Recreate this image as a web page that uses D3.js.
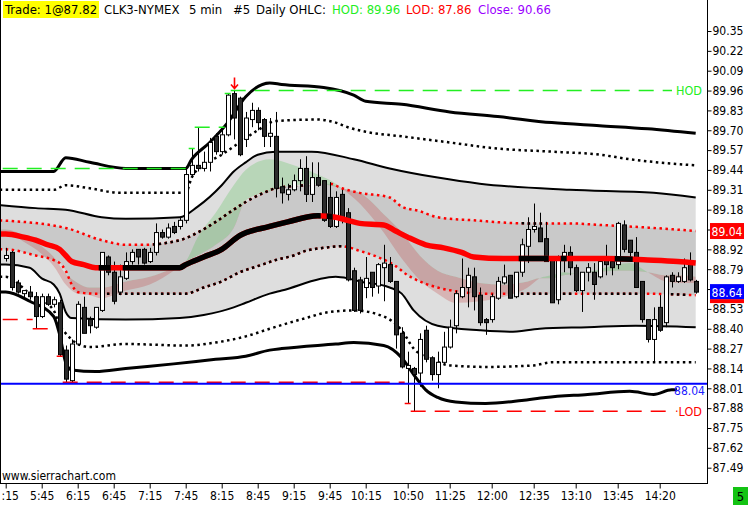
<!DOCTYPE html>
<html>
<head>
<meta charset="utf-8">
<script src="https://cdn.jsdelivr.net/npm/d3@7"></script>
<style>
body { margin: 0; background: #fff; }
svg { display: block; }
text { font-family: 'DejaVu Sans Condensed', 'Liberation Sans', sans-serif; }
</style>
</head>
<body>
<script>
// ---- data (CLK3 5 min bars, first bar 5:15) ----
const firstBar = "5:15";
const barMinutes = 5;
const tickTimes = ["5:15", "5:45", "6:15", "6:45", "7:15", "7:45", "8:15", "8:45", "9:15", "9:45",
    "10:15", "10:50", "11:25", "12:00", "12:35", "13:10", "13:45", "14:20"];
const priceTicks = [90.35, 90.22, 90.09, 89.96, 89.83, 89.70, 89.57, 89.44, 89.31, 89.18, 89.05,
    88.92, 88.79, 88.66, 88.53, 88.40, 88.27, 88.14, 88.01, 87.88, 87.75, 87.62, 87.49];

const opens = [88.86, 88.90, 88.70, 88.63, 88.64, 88.61, 88.48, 88.61, 88.56, 88.57,
    88.26, 88.06, 88.30, 88.54, 88.46, 88.41, 88.52, 88.87, 88.77, 88.64,
    88.73, 88.84, 88.92, 88.92, 88.84, 88.90, 89.03, 89.00, 89.07, 89.07,
    89.11, 89.41, 89.47, 89.45, 89.49, 89.66, 89.56, 89.67, 89.94, 89.91,
    89.64, 89.77, 89.83, 89.77, 89.66, 89.66, 89.33, 89.28, 89.31, 89.37,
    89.45, 89.28, 89.39, 89.37, 89.26, 89.07, 89.28, 89.16, 88.78, 88.72,
    88.67, 88.77, 88.68, 88.80, 88.82, 88.71, 88.37, 88.14, 88.14, 88.11,
    88.39, 88.21, 88.10, 88.18, 88.28, 88.42, 88.61, 88.67, 88.74, 88.62,
    88.46, 88.46, 88.60, 88.70, 88.75, 88.61, 88.77, 88.94, 89.05, 89.06,
    88.99, 88.85, 88.59, 88.85, 88.90, 88.80, 88.65, 88.77, 88.77, 88.74,
    88.87, 88.84, 88.82, 89.08, 88.98, 88.90, 88.71, 88.46, 88.33, 88.54,
    88.44, 88.75, 88.71, 88.71, 88.82, 88.71];
const highs = [88.93, 88.91, 88.72, 88.65, 88.68, 88.64, 88.63, 88.63, 88.61, 88.59,
    88.29, 88.33, 88.58, 88.61, 88.48, 88.54, 88.90, 88.88, 88.84, 88.82,
    88.90, 88.92, 88.92, 88.93, 88.93, 89.09, 89.05, 89.09, 89.10, 89.13,
    89.45, 89.58, 89.72, 89.56, 89.65, 89.68, 89.72, 89.94, 89.96, 89.92,
    89.82, 89.88, 89.85, 89.78, 89.78, 89.82, 89.39, 89.35, 89.41, 89.51,
    89.53, 89.49, 89.49, 89.37, 89.36, 89.30, 89.31, 89.19, 88.80, 88.74,
    88.87, 88.77, 88.83, 88.95, 88.87, 88.71, 88.41, 88.25, 88.15, 88.37,
    88.42, 88.22, 88.25, 88.38, 88.46, 88.65, 88.86, 88.80, 88.80, 88.67,
    88.47, 88.63, 88.74, 88.82, 88.75, 88.77, 88.99, 89.13, 89.22, 89.16,
    89.10, 88.85, 88.88, 88.95, 88.94, 88.82, 88.77, 88.83, 88.83, 88.85,
    88.95, 88.87, 89.10, 89.11, 88.98, 89.00, 88.71, 88.46, 88.54, 88.62,
    88.75, 88.77, 88.77, 88.86, 88.90, 88.72];
const lows = [88.84, 88.65, 88.63, 88.60, 88.59, 88.40, 88.47, 88.55, 88.54, 88.22,
    88.05, 88.05, 88.29, 88.37, 88.37, 88.40, 88.51, 88.75, 88.56, 88.62,
    88.72, 88.82, 88.82, 88.82, 88.83, 88.88, 88.99, 88.99, 89.02, 89.05,
    89.09, 89.39, 89.43, 89.43, 89.43, 89.54, 89.54, 89.66, 89.64, 89.53,
    89.59, 89.72, 89.70, 89.59, 89.59, 89.26, 89.22, 89.24, 89.30, 89.30,
    89.23, 89.23, 89.33, 89.10, 89.06, 89.06, 89.09, 88.71, 88.51, 88.50,
    88.60, 88.61, 88.63, 88.58, 88.70, 88.27, 88.14, 87.91, 87.86, 88.02,
    88.18, 88.06, 88.01, 88.16, 88.27, 88.37, 88.60, 88.54, 88.52, 88.42,
    88.36, 88.44, 88.59, 88.69, 88.60, 88.60, 88.74, 88.83, 89.03, 88.97,
    88.84, 88.57, 88.56, 88.77, 88.75, 88.64, 88.51, 88.71, 88.59, 88.73,
    88.75, 88.75, 88.79, 88.90, 88.85, 88.67, 88.44, 88.31, 88.18, 88.38,
    88.41, 88.67, 88.70, 88.70, 88.71, 88.63];
const closes = [88.88, 88.67, 88.64, 88.65, 88.61, 88.48, 88.61, 88.56, 88.59, 88.23,
    88.07, 88.30, 88.56, 88.37, 88.42, 88.54, 88.90, 88.77, 88.58, 88.74,
    88.84, 88.90, 88.87, 88.83, 88.90, 89.03, 89.00, 89.06, 89.03, 89.11,
    89.41, 89.47, 89.45, 89.49, 89.62, 89.56, 89.67, 89.93, 89.78, 89.54,
    89.78, 89.83, 89.75, 89.66, 89.68, 89.32, 89.29, 89.31, 89.37, 89.45,
    89.28, 89.39, 89.34, 89.11, 89.07, 89.26, 89.11, 88.72, 88.52, 88.52,
    88.73, 88.67, 88.82, 88.83, 88.71, 88.36, 88.15, 88.16, 88.10, 88.33,
    88.20, 88.10, 88.18, 88.28, 88.41, 88.63, 88.67, 88.75, 88.61, 88.44,
    88.44, 88.61, 88.71, 88.74, 88.60, 88.77, 88.95, 89.05, 89.07, 88.97,
    88.84, 88.57, 88.85, 88.90, 88.80, 88.65, 88.77, 88.80, 88.69, 88.84,
    88.82, 88.80, 89.09, 88.92, 88.90, 88.67, 88.46, 88.33, 88.46, 88.39,
    88.74, 88.71, 88.74, 88.80, 88.72, 88.64];

// band lines, [bar, price] read at turning points
const outerUpper = [[-1, 89.43], [8, 89.43], [10, 89.52], [14, 89.49], [20, 89.45], [30, 89.45], [31, 89.51],
    [34, 89.62], [37, 89.75], [40, 89.92], [44, 90.01], [46, 90.00], [53, 89.98], [58, 89.93], [60, 89.89],
    [66, 89.87], [74, 89.82], [82, 89.79], [91, 89.75], [99, 89.73], [107, 89.71], [115, 89.68]];
const upperDots = [[-1, 89.31], [8, 89.31], [10, 89.34], [14, 89.32], [19, 89.29], [30, 89.29], [31, 89.39],
    [33, 89.47], [36, 89.54], [39, 89.62], [42, 89.70], [45, 89.76], [52, 89.77], [55, 89.75], [57, 89.72],
    [60, 89.69], [66, 89.66], [74, 89.62], [82, 89.58], [91, 89.56], [99, 89.54], [104, 89.51], [115, 89.47]];
const innerUpper = [[-1, 89.21], [5, 89.19], [10, 89.18], [16, 89.13], [20, 89.12], [29, 89.13], [32, 89.20],
    [36, 89.34], [38, 89.43], [40, 89.49], [42, 89.54], [45, 89.56], [51, 89.56], [58, 89.51], [64, 89.45],
    [72, 89.39], [79, 89.35], [94, 89.31], [108, 89.29], [115, 89.26]];
const midUpperDots = [[-1, 89.11], [10, 89.06], [16, 88.98], [20, 88.95], [23, 88.95], [29, 88.98], [32, 89.03],
    [35, 89.10], [38, 89.18], [40, 89.23], [43, 89.29], [45, 89.32], [50, 89.34], [54, 89.35], [56, 89.32],
    [59, 89.29], [64, 89.26], [66, 89.20], [69, 89.17], [72, 89.13], [78, 89.11], [87, 89.09], [94, 89.09],
    [99, 89.08], [108, 89.06], [115, 89.04]];
const midLine = [[-1, 89.02], [0, 89.02], [3, 89.00], [5, 88.98], [7, 88.95], [9, 88.92], [10, 88.88], [11, 88.84],
    [13, 88.82], [15, 88.80], [19, 88.80], [29, 88.80], [30, 88.82], [33, 88.87], [36, 88.92], [39, 89.01],
    [44, 89.07], [47, 89.10], [52, 89.14], [55, 89.13], [57, 89.11], [59, 89.09], [63, 89.08], [65, 89.04],
    [67, 89.00], [70, 88.95], [73, 88.93], [76, 88.90], [78, 88.87], [83, 88.86], [100, 88.86], [107, 88.85],
    [112, 88.84], [115, 88.83]];
const midLowerDots = [[-1, 88.92], [0, 88.92], [5, 88.88], [8, 88.85], [9, 88.83], [10, 88.78], [11, 88.69],
    [12, 88.64], [15, 88.63], [30, 88.63], [33, 88.67], [36, 88.71], [39, 88.77], [42, 88.81], [45, 88.85],
    [48, 88.88], [50, 88.91], [53, 88.93], [56, 88.94], [59, 88.91], [62, 88.87], [65, 88.81], [67, 88.75],
    [69, 88.71], [72, 88.67], [76, 88.64], [80, 88.63], [105, 88.63], [115, 88.62]];
const innerLower = [[-1, 88.82], [0, 88.82], [4, 88.80], [6, 88.73], [8, 88.69], [9, 88.63], [10, 88.51],
    [11, 88.47], [20, 88.46], [29, 88.47], [33, 88.49], [38, 88.54], [40, 88.57], [44, 88.63], [46, 88.65],
    [55, 88.74], [57, 88.73], [59, 88.71], [64, 88.67], [66, 88.63], [68, 88.52], [72, 88.42], [79, 88.39],
    [84, 88.38], [89, 88.40], [97, 88.41], [105, 88.42], [115, 88.41]];
const lowerDots = [[-1, 88.74], [0, 88.74], [4, 88.63], [8, 88.52], [9, 88.42], [10, 88.37], [12, 88.30],
    [14, 88.28], [20, 88.30], [30, 88.29], [35, 88.31], [40, 88.35], [44, 88.40], [50, 88.47], [54, 88.51],
    [58, 88.52], [63, 88.48], [66, 88.39], [68, 88.27], [71, 88.20], [74, 88.16], [80, 88.15], [88, 88.16],
    [91, 88.18], [115, 88.18]];
const outerLower = [[-1, 88.64], [0, 88.64], [4, 88.58], [8, 88.48], [9, 88.36], [10, 88.18], [11, 88.13],
    [15, 88.12], [20, 88.14], [28, 88.17], [35, 88.20], [40, 88.22], [44, 88.26], [46, 88.27], [55, 88.30],
    [58, 88.31], [63, 88.29], [66, 88.21], [68, 88.10], [70, 88.00], [72, 87.95], [75, 87.92], [80, 87.91],
    [86, 87.93], [90, 87.95], [97, 87.97], [104, 87.99], [108, 87.97], [111, 88.00], [115, 88.00]];

// bar ranges where the coloured lines are drawn black instead of red
const midBlack = [[16, 17], [20, 52], [54, 54], [86, 90], [93, 93], [102, 104]];
const midUpperBlack = [[25, 52], [86, 89]];
const midLowerBlack = [[16, 56], [85, 90], [93, 94], [98, 105], [110, 113]];

// fast / slow averages for the green / red cloud
const cloudBars = [-1, 0, 3, 6, 8, 10, 12, 14, 16, 20, 24, 28, 30, 32, 35, 38, 40, 44, 48, 52, 55, 56, 59,
    63, 66, 69, 72, 75, 79, 83, 87, 89, 91, 93, 95, 98, 102, 104, 107, 110, 113, 115];
const cloudSlow = [89.05, 89.05, 89.01, 88.94, 88.87, 88.76, 88.70, 88.67, 88.67, 88.71, 88.74, 88.80, 88.84,
    88.88, 88.95, 89.06, 89.24, 89.30, 89.34, 89.35, 89.33, 89.32, 89.29, 89.15, 89.03, 88.88, 88.78, 88.74,
    88.70, 88.69, 88.71, 88.73, 88.73, 88.75, 88.76, 88.77, 88.78, 88.78, 88.77, 88.75, 88.75, 88.74];
const cloudFast = [89.03, 89.03, 88.97, 88.89, 88.81, 88.69, 88.63, 88.62, 88.60, 88.65, 88.69, 88.78, 88.84,
    89.00, 89.16, 89.34, 89.44, 89.51, 89.47, 89.41, 89.35, 89.32, 89.22, 89.03, 88.86, 88.72, 88.63, 88.57,
    88.58, 88.61, 88.67, 88.73, 88.75, 88.77, 88.76, 88.78, 88.82, 88.83, 88.77, 88.71, 88.70, 88.70];

const priorHigh = 89.45;
const priorLow = 88.46;
const refLine = 88.04;
const lastTrade = "87.82";
const dailyClose = "90.66";

// ---- layout ----
const W = 748, H = 505;
const plotRight = 707, plotBottom = 483;
const labelX = 672;

const svg = d3.select("body").append("svg")
    .attr("width", W)
    .attr("height", H);

const x = d3.scaleLinear().domain([0, 115]).range([5.7, 695.7]);
const y = d3.scaleLinear().domain([87.49, 90.35]).range([467.7, 31]);

const defs = svg.append("defs");
defs.append("clipPath").attr("id", "plot")
    .append("rect").attr("x", 1).attr("y", 0).attr("width", plotRight - 1).attr("height", plotBottom);

function rangeClip(id, ranges) {
    let cp = defs.append("clipPath").attr("id", id);
    ranges.forEach(function(r) {
        cp.append("rect")
            .attr("x", x(r[0]) - 3)
            .attr("y", 0)
            .attr("width", x(r[1]) - x(r[0]) + 6)
            .attr("height", H);
    });
}
rangeClip("midBlack", midBlack);
rangeClip("upBlack", midUpperBlack);
rangeClip("lowBlack", midLowerBlack);

let line = d3.line()
    .x(function(d) { return x(d[0]); })
    .y(function(d) { return y(d[1]); })
    .curve(d3.curveMonotoneX);

function band(top, bottom) {
    // closed shape between two lines
    let back = bottom.slice().reverse();
    return line(top) + line(back).replace(/^M/, "L") + "Z";
}

let plot = svg.append("g").attr("clip-path", "url(#plot)");

// gray bands
plot.append("path").attr("d", band(innerUpper, innerLower)).attr("fill", "#dedede");
plot.append("path").attr("d", band(midUpperDots, midLowerDots)).attr("fill", "#c9c9c9");

// cloud between fast and slow average (green where fast is above)
let cloudIdx = d3.range(cloudBars.length);
let xc = function(i) { return x(cloudBars[i]); };
defs.append("clipPath").attr("id", "aboveSlow").append("path")
    .attr("d", d3.area().x(xc).y0(0).y1(function(i) { return y(cloudSlow[i]); })
        .curve(d3.curveMonotoneX)(cloudIdx));
defs.append("clipPath").attr("id", "belowSlow").append("path")
    .attr("d", d3.area().x(xc).y0(H).y1(function(i) { return y(cloudSlow[i]); })
        .curve(d3.curveMonotoneX)(cloudIdx));
let cloudArea = d3.area().x(xc)
    .y0(function(i) { return y(cloudSlow[i]); })
    .y1(function(i) { return y(cloudFast[i]); })
    .curve(d3.curveMonotoneX);
plot.append("path").attr("d", cloudArea(cloudIdx))
    .attr("clip-path", "url(#aboveSlow)")
    .attr("fill", "rgb(70,190,70)").attr("fill-opacity", 0.25);
plot.append("path").attr("d", cloudArea(cloudIdx))
    .attr("clip-path", "url(#belowSlow)")
    .attr("fill", "rgb(190,30,30)").attr("fill-opacity", 0.22);

// solid band lines
[[outerUpper, 3], [innerUpper, 2], [innerLower, 2], [outerLower, 3]].forEach(function(l) {
    plot.append("path").attr("d", line(l[0]))
        .attr("fill", "none").attr("stroke", "#000").attr("stroke-width", l[1]);
});

// dotted band lines
function dotted(data, color, clip) {
    let p = plot.append("path").attr("d", line(data))
        .attr("fill", "none")
        .attr("stroke", color)
        .attr("stroke-width", 2.5)
        .attr("stroke-dasharray", "2.5,3.5");
    if (clip) p.attr("clip-path", "url(#" + clip + ")");
}
dotted(upperDots, "#000");
dotted(lowerDots, "#000");
dotted(midUpperDots, "#f00");
dotted(midUpperDots, "#000", "upBlack");
dotted(midLowerDots, "#f00");
dotted(midLowerDots, "#000", "lowBlack");

// candles
let bars = d3.range(opens.length);
let candles = plot.selectAll(".candle")
    .data(bars)
    .enter()
    .append("g")
    .attr("class", "candle");
candles.append("line")
    .attr("x1", function(i) { return Math.round(x(i)) + 0.5; })
    .attr("x2", function(i) { return Math.round(x(i)) + 0.5; })
    .attr("y1", function(i) { return y(highs[i]); })
    .attr("y2", function(i) { return y(lows[i]); })
    .attr("stroke", "#000");
candles.append("rect")
    .attr("x", function(i) { return Math.round(x(i)) - 1.5; })
    .attr("width", 4)
    .attr("y", function(i) { return y(Math.max(opens[i], closes[i])); })
    .attr("height", function(i) {
        return Math.max(1, Math.abs(y(opens[i]) - y(closes[i])));
    })
    .attr("fill", function(i) { return closes[i] >= opens[i] ? "#fff" : "#2b2b2b"; })
    .attr("stroke", "#000");

// thick middle line, red with black stretches
plot.append("path").attr("d", line(midLine))
    .attr("fill", "none").attr("stroke", "#f00").attr("stroke-width", 5.5);
plot.append("path").attr("d", line(midLine)).attr("clip-path", "url(#midBlack)")
    .attr("fill", "none").attr("stroke", "#000").attr("stroke-width", 5.5);

// running high / low of day as dashed steps
function running(vals, start, fn) {
    let out = [], cur = start;
    vals.forEach(function(v) { cur = fn(cur, v); out.push(cur); });
    return out;
}
function stepPath(vals) {
    let runs = [];
    vals.forEach(function(v, i) {
        let last = runs[runs.length - 1];
        if (last && last[2] === v) last[1] = i; else runs.push([i, i, v]);
    });
    return runs.map(function(r, k) {
        let end = k === runs.length - 1 ? labelX : x(r[1]) + 3;
        return "M" + (x(r[0]) - 3) + "," + y(r[2]) + "H" + end;
    }).join("");
}
let hod = running(highs, priorHigh, Math.max);
let lod = running(lows, priorLow, Math.min);
plot.append("path").attr("d", stepPath(hod))
    .attr("fill", "none").attr("stroke", "#22ee22").attr("stroke-width", 1.5)
    .attr("stroke-dasharray", "15,9");
plot.append("path").attr("d", stepPath(lod))
    .attr("fill", "none").attr("stroke", "#f00").attr("stroke-width", 1.5)
    .attr("stroke-dasharray", "15,9");

// reference line with its label on a white patch
plot.append("line")
    .attr("x1", 0).attr("x2", plotRight)
    .attr("y1", y(refLine)).attr("y2", y(refLine))
    .attr("stroke", "#0000ff").attr("stroke-width", 2);
svg.append("rect")
    .attr("x", 677).attr("y", y(refLine) + 1.5)
    .attr("width", plotRight - 677).attr("height", 13)
    .attr("fill", "#fff");
svg.append("text")
    .attr("x", 705).attr("y", y(refLine) + 11)
    .attr("text-anchor", "end")
    .attr("font-size", 12)
    .attr("fill", "#2020ff")
    .text(refLine.toFixed(2));

// labels at the end of HOD / LOD
let hodVal = d3.max(highs), lodVal = d3.min(lows);
svg.append("text").attr("x", 676).attr("y", y(hodVal) + 4.5)
    .attr("font-size", 12.5).attr("fill", "#22ee22").text("HOD");
svg.append("text").attr("x", 675).attr("y", y(lodVal) + 4.5)
    .attr("font-size", 12.5).attr("fill", "#f00").text("\u00b7LOD");

// arrow over the bar that made the high
let hiBar = highs.indexOf(hodVal);
let ax = Math.round(x(hiBar)) + 0.5, ay = y(hodVal) - 2;
svg.append("path")
    .attr("d", "M" + ax + "," + (ay - 11) + "V" + ay + "M" + (ax - 3.5) + "," + (ay - 4) + "L" + ax + "," + ay + "L" + (ax + 3.5) + "," + (ay - 4))
    .attr("fill", "none").attr("stroke", "#f00").attr("stroke-width", 1.6);

// frame
svg.append("line").attr("x1", 0.5).attr("x2", 0.5).attr("y1", 0).attr("y2", plotBottom).attr("stroke", "#000");
svg.append("line").attr("x1", 0).attr("x2", plotRight).attr("y1", plotBottom + 0.5).attr("y2", plotBottom + 0.5).attr("stroke", "#000");
svg.append("line").attr("x1", plotRight + 0.5).attr("x2", plotRight + 0.5).attr("y1", 0).attr("y2", plotBottom + 1).attr("stroke", "#000");

// value boxes on the price axis
let redVal = midUpperDots[midUpperDots.length - 1][1];
let lastVal = closes[closes.length - 1];

// price axis (labels under the value boxes are left out)
let yAxis = d3.axisRight(y)
    .tickValues(priceTicks)
    .tickFormat(function(d) {
        let covered = Math.abs(y(d) - y(redVal)) < 10 || Math.abs(y(d) - y(lastVal)) < 10;
        return covered ? "" : d3.format(".2f")(d);
    })
    .tickSize(4)
    .tickPadding(1);
let ya = svg.append("g")
    .attr("transform", "translate(" + (plotRight + 0.5) + ",0)")
    .call(yAxis);
ya.select(".domain").remove();
ya.selectAll("text").attr("font-size", 12).attr("fill", "#000")
    .style("font-family", "'DejaVu Sans Condensed', 'Liberation Sans', sans-serif");

// time axis
function toMin(t) {
    let p = t.split(":");
    return +p[0] * 60 + +p[1];
}
let tickBars = tickTimes.map(function(t) { return (toMin(t) - toMin(firstBar)) / barMinutes; });
let xAxis = d3.axisBottom(x)
    .tickValues(tickBars)
    .tickFormat(function(d, i) { return tickTimes[i]; })
    .tickSize(5)
    .tickPadding(3);
let xa = svg.append("g")
    .attr("transform", "translate(0," + (plotBottom + 0.5) + ")")
    .call(xAxis);
xa.select(".domain").remove();
xa.selectAll("text").attr("font-size", 12).attr("fill", "#000")
    .style("font-family", "'DejaVu Sans Condensed', 'Liberation Sans', sans-serif");
// the first label runs off the left edge: show only what fits, as the chart does
xa.selectAll(".tick").each(function(d) {
    let t = d3.select(this).select("text");
    let w = t.node().getComputedTextLength();
    if (x(d) - w / 2 < 0) {
        let s = t.text();
        t.text(s.slice(s.indexOf(":")))
            .attr("text-anchor", "start")
            .attr("x", 1 - x(d));
    }
});

svg.append("rect").attr("x", 710).attr("y", y(redVal) - 8).attr("width", 34).attr("height", 16).attr("fill", "#f00");
svg.append("text").attr("x", 727).attr("y", y(redVal) + 4.5).attr("text-anchor", "middle")
    .attr("font-size", 12).attr("fill", "#fff").text(redVal.toFixed(2));
svg.append("rect").attr("x", 710).attr("y", y(lastVal) + 7).attr("width", 34).attr("height", 4).attr("fill", "#f00");
svg.append("rect").attr("x", 710).attr("y", y(lastVal) - 8).attr("width", 34).attr("height", 15).attr("fill", "#0000ff");
svg.append("text").attr("x", 727).attr("y", y(lastVal) + 4.5).attr("text-anchor", "middle")
    .attr("font-size", 12).attr("fill", "#fff").text(lastVal.toFixed(2));

// header
svg.append("rect").attr("x", 3).attr("y", 1).attr("width", 96).attr("height", 17).attr("fill", "#ffff00");
let header = [
    [5, "Trade: 1@" + lastTrade, "#000"],
    [104, "CLK3-NYMEX", "#000"],
    [189, "5 min", "#000"],
    [233, "#5", "#000"],
    [256, "Daily OHLC:", "#000"],
    [332, "HOD: " + hodVal.toFixed(2), "#22ee22"],
    [406, "LOD: " + lodVal.toFixed(2), "#f00"],
    [478, "Close: " + dailyClose, "#9a00ff"]
];
svg.selectAll(".head")
    .data(header)
    .enter()
    .append("text")
    .attr("class", "head")
    .attr("x", function(d) { return d[0]; })
    .attr("y", 14)
    .attr("font-size", 13)
    .attr("fill", function(d) { return d[2]; })
    .text(function(d) { return d[1]; });

svg.append("text").attr("x", 2).attr("y", 480).attr("font-size", 12).attr("fill", "#000")
    .text("www.sierrachart.com");

// bar counter box
svg.append("rect").attr("x", 733).attr("y", 487).attr("width", 15).attr("height", 18).attr("fill", "#13c313");
svg.append("text").attr("x", 740.5).attr("y", 501).attr("text-anchor", "middle")
    .attr("font-size", 13).attr("fill", "#000").text("5");
</script>
</body>
</html>
